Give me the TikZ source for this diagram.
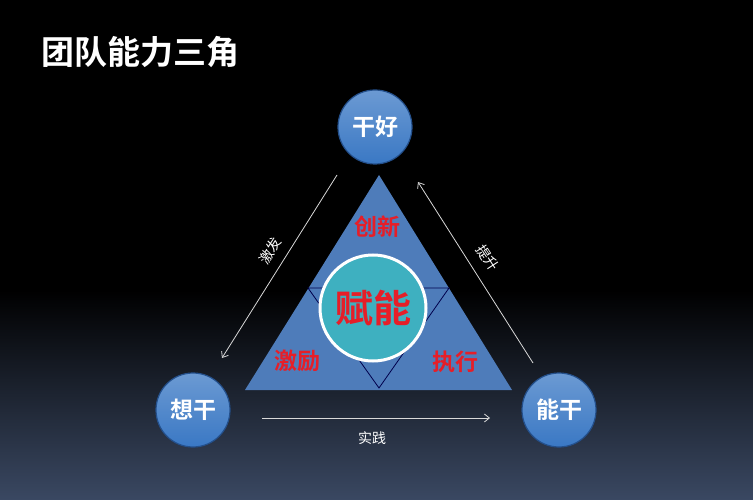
\documentclass[tikz,border=0pt]{standalone}
\usepackage{fontspec}
\setmainfont{Noto Sans CJK SC}
\newfontfamily\cjkbold{Noto Sans CJK SC Bold}
\usetikzlibrary{arrows.meta}
\definecolor{ballblue}{RGB}{58,120,196}
\definecolor{balldark}{RGB}{36,80,140}
\definecolor{tribg}{RGB}{78,124,186}
\definecolor{coreteal}{RGB}{62,176,192}
\definecolor{wordred}{RGB}{230,30,40}
\definecolor{floor}{RGB}{58,72,98}

\begin{document}
\begin{tikzpicture}
[x=1pt,y=-1pt,
ball/.style={circle,minimum size=74pt,inner sep=0pt,draw=balldark,line width=1.2pt,
  top color=ballblue!75!white,bottom color=ballblue,text=white,font=\cjkbold\fontsize{23}{23}\selectfont},
redword/.style={text=wordred,font=\cjkbold\fontsize{23}{23}\selectfont},
flow/.style={draw=white!85!black,line width=0.8pt,-{Straight Barb[length=5pt,width=8pt]}},
flowtext/.style={text=white,font=\fontsize{14}{14}\selectfont}]
% background
\fill[black] (0,0) rectangle (753,500);
\shade[top color=black,bottom color=floor] (0,290) rectangle (753,500);
\node[text=white,font=\cjkbold\fontsize{33}{33}\selectfont,anchor=west] (title) at (38,52) {团队能力三角};
% triangle
\fill[tribg] (379,175) -- (512,390) -- (245,390) -- cycle;
\draw[black!70!blue,line width=0.8pt] (308,288) -- (449,288) -- (379,388) -- cycle;
\node[circle,minimum size=106pt,inner sep=0pt,fill=coreteal,draw=white,line width=3pt,
  text=wordred,font=\cjkbold\fontsize{38}{38}\selectfont] (core) at (373,308) {赋能};
\node[redword] (create) at (377,227) {创新};
\node[redword] (spur) at (297,361) {激励};
\node[redword] (exec) at (455,362) {执行};
% corners
\node[ball] (good) at (375,127) {干好};
\node[ball] (want) at (193,410) {想干};
\node[ball] (can) at (559,410) {能干};
\coordinate (a1) at (337,175);
\coordinate (a2) at (222,358);
\coordinate (b1) at (533,363);
\coordinate (b2) at (418,182);
\coordinate (c1) at (262,418);
\coordinate (c2) at (490,418);
\foreach \from/\to in {a1/a2,b1/b2,c1/c2}
\draw[flow] (\from) -- (\to);
\node[flowtext,rotate=58] (inspire) at (270,251) {激发};
\node[flowtext,rotate=-57] (lift) at (488,258) {提升};
\node[flowtext] (practice) at (372,438) {实践};
\end{tikzpicture}
\end{document}
